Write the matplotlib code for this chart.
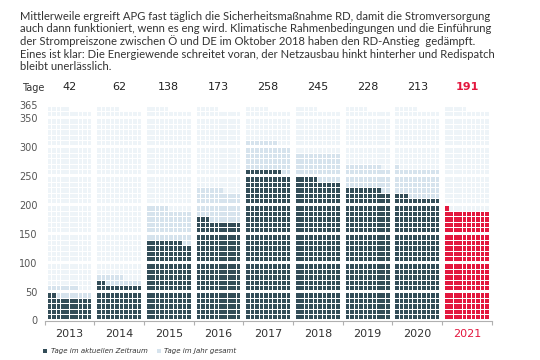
import matplotlib.pyplot as plt
from matplotlib.patches import Rectangle

years = ['2013', '2014', '2015', '2016', '2017', '2018', '2019', '2020', '2021']
days_current = [42, 62, 138, 173, 258, 245, 228, 213, 191]
days_total = [57, 76, 195, 226, 307, 290, 268, 261, 191]
year_days = 365
yticks = [0, 50, 100, 150, 200, 250, 300, 350, 365]

intro = [
    "Mittlerweile ergreift APG fast täglich die Sicherheitsmaßnahme RD, damit die Stromversorgung",
    "auch dann funktioniert, wenn es eng wird. Klimatische Rahmenbedingungen und die Einführung",
    "der Strompreiszone zwischen Ö und DE im Oktober 2018 haben den RD-Anstieg  gedämpft.",
    "Eines ist klar: Die Energiewende schreitet voran, der Netzausbau hinkt hinterher und Redispatch",
    "bleibt unerlässlich.",
]

dark = '#334d58'
light = '#d6e3ed'
bg = '#eef4f8'
red = '#e3173e'
txt = '#333333'

per_row = 10
pitch = 11.1   # column spacing in square units
gap = 0.35     # extra gap every 5 rows


def row_y(r):
    return r + gap * (r // 5)


def val_y(v):
    if v == 0:
        return 0
    if v % 50 == 0:
        k = v // 50
        return 5 * k + gap * k - gap / 2
    # top of the last (partial) row
    return row_y(v // 10) + 1.3


fig = plt.figure(figsize=(5.4, 3.6), dpi=100)
ax = fig.add_axes([0.0827, 0.1083, 0.828, 0.605])

for i, yr in enumerate(years):
    x0 = i * pitch
    col_dark = red if yr == '2021' else dark
    for d in range(year_days):
        r, c = divmod(d, per_row)
        if d < days_current[i]:
            fc = col_dark
        elif d < days_total[i]:
            fc = light
        else:
            fc = bg
        ax.add_patch(Rectangle((x0 + c + 0.1, row_y(r) + 0.1), 0.8, 0.8,
                               facecolor=fc, edgecolor='none'))

ax.set_xlim(-0.3, 8 * pitch + 10 + 0.3)
ax.set_ylim(-0.2, 40)
for s in ['top', 'right', 'left']:
    ax.spines[s].set_visible(False)
ax.spines['bottom'].set_color('#b0b0b0')
ax.spines['bottom'].set_linewidth(0.8)

ax.set_yticks([val_y(v) for v in yticks])
ax.set_yticklabels([str(v) for v in yticks], fontsize=7, color='#555555')
ax.tick_params(axis='y', length=0, pad=5)

ax.set_xticks([i * pitch - 0.55 for i in range(len(years) + 1)])
ax.set_xticklabels([])
ax.tick_params(axis='x', length=3, color='#b0b0b0', width=0.8)

for i, yr in enumerate(years):
    xc = i * pitch + 5
    is_red = yr == '2021'
    ax.text(xc, -1.6, yr, ha='center', va='top', fontsize=8,
            color=red if is_red else txt)
    ax.text(xc, 43.0, str(days_current[i]), ha='center', va='center', fontsize=8,
            color=red if is_red else '#222222', fontweight='bold' if is_red else 'normal')

fig.text(22 / 540, 1 - 88 / 360, 'Tage', ha='left', va='center', fontsize=7, color=txt)

line_y = [16, 29, 41, 54, 66]
for s, y in zip(intro, line_y):
    fig.text(20 / 540, 1 - y / 360, s, ha='left', va='center', fontsize=8.1,
             color=txt, family='Lato')

# legend
fig.patches.append(Rectangle((43 / 540, 1 - 353 / 360), 4 / 540, 4 / 360,
                             transform=fig.transFigure, facecolor=dark, edgecolor='none'))
fig.text(51 / 540, 1 - 351 / 360, 'Tage im aktuellen Zeitraum', ha='left', va='center',
         fontsize=5, style='italic', color=txt)
fig.patches.append(Rectangle((157 / 540, 1 - 353 / 360), 4 / 540, 4 / 360,
                             transform=fig.transFigure, facecolor=light, edgecolor='none'))
fig.text(164 / 540, 1 - 351 / 360, 'Tage im Jahr gesamt', ha='left', va='center',
         fontsize=5, style='italic', color=txt)

fig.savefig('out.png', dpi=100)
